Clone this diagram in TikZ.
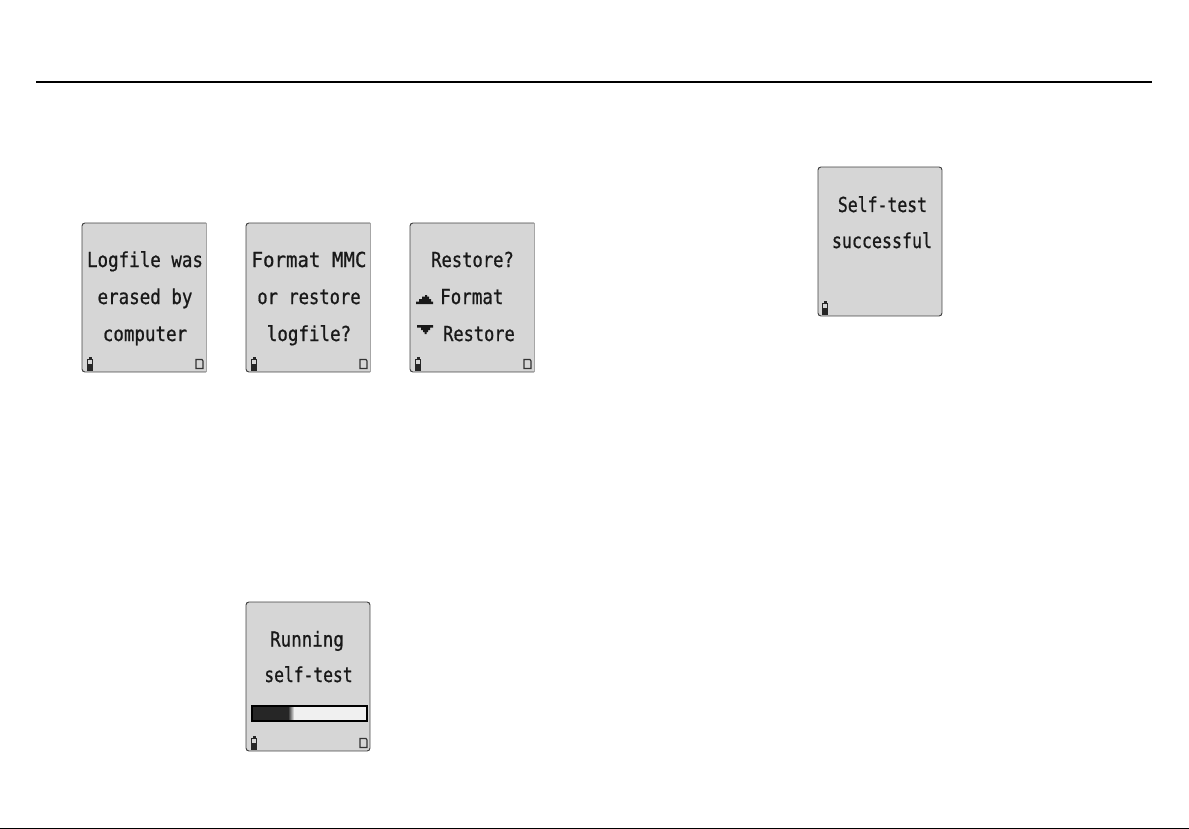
\documentclass[tikz,border=0pt]{standalone}
\usepackage{fontspec}
\newfontfamily\lcd[FakeStretch=0.85,FakeBold=0.8]{DejaVu Sans Mono}
\tikzset{
  x=1pt,y=-1pt,
  lcdscreen/.style={fill=black!16,draw=none,minimum width=124pt,minimum height=149pt,anchor=north west,inner sep=0pt},
  lcdedge/.style={draw=black!75,line width=0.9pt,rounded corners=3pt},
  lcdtext/.style={font=\lcd\fontsize{20.6}{20.6}\selectfont,text=black!90,inner sep=0pt,anchor=base},
  squeeze/.style={xscale=#1,transform shape},
  rulekey/.style={line width=2pt,black},
  ink/.style={fill=black!90,draw=none},
  cardicon/.style={draw=black!80,line width=1.2pt,fill=none},
}
\newcommand{\battery}[2]{%
  \fill[black!85] (#1+1.5,#2) rectangle (#1+4.5,#2+2);
  \draw[black!85,line width=0.9pt] (#1+0.5,#2+2) rectangle (#1+5.5,#2+13);
  \fill[black!85] (#1+0.5,#2+7) rectangle (#1+5.5,#2+13);}
\newcommand{\card}[2]{%
  \draw[cardicon] (#1,#2+9) -- (#1,#2) -- (#1+6,#2) -- (#1+7,#2+1.5) -- (#1+7,#2+9) -- cycle;}
\newcommand{\openscreen}[3]{%
  \node[lcdscreen] (#3) at (#1,#2) {};
  \draw[lcdedge] (#1+124,#2) -- (#1,#2) -- (#1,#2+149) -- (#1+124,#2+149);
  \draw[black!35,line width=0.6pt] (#1+124,#2) -- (#1+124,#2+149);}
\newcommand{\closedscreen}[3]{%
  \node[lcdscreen] (#3) at (#1,#2) {};
  \draw[lcdedge] (#1,#2) rectangle (#1+124,#2+149);}
\begin{document}
\begin{tikzpicture}
\useasboundingbox (0,0) rectangle (1189,829);
\coordinate (ruleL) at (36,82);
\coordinate (ruleR) at (1152,82);
\draw[rulekey] (ruleL) -- (ruleR);
\coordinate (baseL) at (0,828.5);
\coordinate (baseR) at (1189,828.5);
\draw[black,line width=1pt] (baseL) -- (baseR);

\openscreen{82}{223}{s1}
\openscreen{246}{223}{s2}
\openscreen{410}{223}{s3}
\closedscreen{246}{602}{s4}
\closedscreen{818}{167}{s5}

\node[lcdtext] (t11) at (145,267) {Logfile was};
\node[lcdtext] (t12) at (145,304) {erased by};
\node[lcdtext] (t13) at (145,341) {computer};
\battery{87}{357}\card{196}{359.5}

\node[lcdtext,squeeze=1.09] (t21) at (309,267) {Format MMC};
\node[lcdtext,squeeze=0.98] (t22) at (309,304) {or restore};
\node[lcdtext] (t23) at (309,341) {logfile?};
\battery{251}{357}\card{360}{359.5}

\node[lcdtext,squeeze=0.98] (t31) at (472.5,267) {Restore?};
\node[lcdtext,anchor=base west] (t32) at (440,304) {Format};
\node[lcdtext,anchor=base west,squeeze=0.97] (t33) at (443,341) {Restore};
% stepped arrows of the display
\fill[ink] (416,304) -- (416,301.5) -- (419,301.5) -- (419,299) -- (422,299) -- (422,296.5) -- (425,296.5) -- (425,295) -- (427,295) -- (427,296.5) -- (429,296.5) -- (429,299) -- (431,299) -- (431,301.5) -- (433,301.5) -- (433,304) -- cycle;
\fill[ink] (417,325) -- (433,325) -- (433,327.5) -- (430,327.5) -- (430,330) -- (428,330) -- (428,332) -- (426.5,332) -- (426.5,334) -- (424.5,334) -- (424.5,332) -- (423,332) -- (423,330) -- (421,330) -- (421,327.5) -- (417,327.5) -- cycle;
\battery{415}{357}\card{524}{359.5}

\node[lcdtext] (t41) at (307,646.5) {Running};
\node[lcdtext,squeeze=0.93] (t42) at (308.5,682) {self-test};
\fill[black!6] (251,705) rectangle (366,720);
\fill[black!85] (251,705) rectangle (288,720);
\shade[left color=black!85,right color=black!6] (288,705) rectangle (294,720);
\node[draw=black,line width=1.8pt,fill=none,minimum width=115pt,minimum height=15pt,inner sep=0pt,anchor=north west] (bar) at (251,705) {};
\battery{251}{736}\card{360}{738.5}

\node[lcdtext,squeeze=0.94] (t51) at (882.5,212) {Self-test};
\node[lcdtext,squeeze=0.95] (t52) at (882,248) {successful};
\battery{822}{301}
\end{tikzpicture}
\end{document}
